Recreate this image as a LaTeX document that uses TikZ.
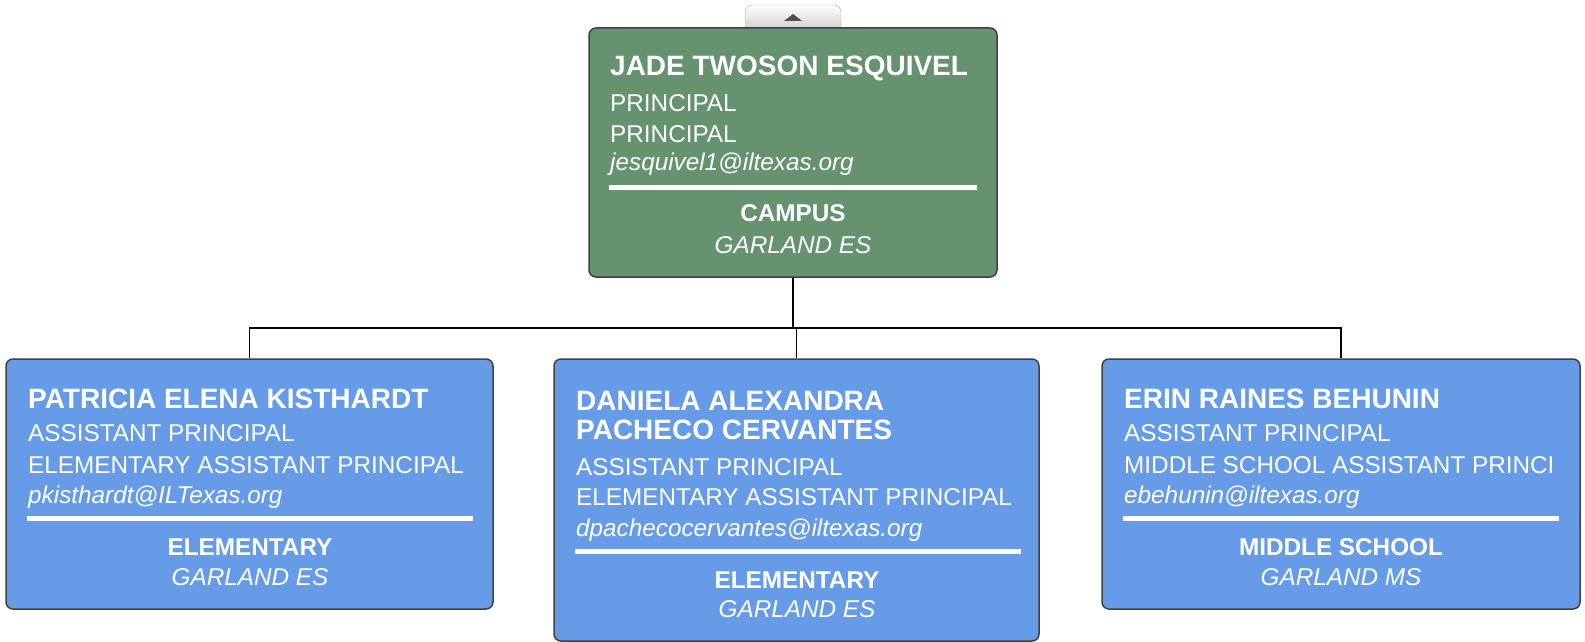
\documentclass[tikz,border=0pt]{standalone}
\usepackage{fontspec}
\setmainfont{Liberation Sans}
\usepackage{tikz}
\definecolor{campusgreen}{HTML}{66936F}
\definecolor{staffblue}{HTML}{669BE8}
\definecolor{cardedge}{HTML}{404040}
\definecolor{tabedge}{HTML}{A8A8A8}
\definecolor{tabmark}{HTML}{505050}

\begin{document}
\begin{tikzpicture}[x=1pt,y=-1pt,
  card/.style={draw=cardedge,line width=1.5pt,rounded corners=7pt,inner sep=0pt},
  ln/.style={anchor=base west,inner sep=0pt,text=white,font=\fontsize{24.3}{28}\selectfont},
  nm/.style={ln,font=\fontsize{28}{30}\selectfont\bfseries},
  em/.style={ln,font=\fontsize{24.3}{28}\selectfont\itshape},
  unit/.style={ln,anchor=base,font=\fontsize{24.3}{28}\selectfont\bfseries},
  site/.style={ln,anchor=base,font=\fontsize{24.3}{28}\selectfont\itshape},
  sep/.style={white,line width=5pt},
  link/.style={black,line width=1.5pt}]
\useasboundingbox (0,0) rectangle (1585,642);

\draw[draw=tabedge,top color=white,bottom color=black!18,rounded corners=7pt]
  (745,29) -- (745,5) -- (841,5) -- (841,29);
\fill[tabmark] (784,21) -- (802,21) -- (793,14) -- cycle;

\node[card,fill=campusgreen,minimum width=408pt,minimum height=249pt] (P) at (793,152.5) {};
\node[card,fill=staffblue,minimum width=487pt,minimum height=250pt] (A) at (249.5,484) {};
\node[card,fill=staffblue,minimum width=485pt,minimum height=282pt] (B) at (796.5,500) {};
\node[card,fill=staffblue,minimum width=478pt,minimum height=250pt] (C) at (1341,484) {};

\coordinate (bus) at (0,328);
\foreach \k in {A,B,C}
  \draw[link] (P.south) -- (P.south |- bus) -| (\k.north);

\node[nm] (P1) at (610,76) {JADE TWOSON ESQUIVEL};
\node[ln] (P2) at (610,111) {PRINCIPAL};
\node[ln] (P3) at (610,142) {PRINCIPAL};
\node[em] (P4) at (610,170.5) {jesquivel1@iltexas.org};
\draw[sep] (609,187) -- (977,187);
\node[unit] (P5) at (793,221.5) {CAMPUS};
\node[site] (P6) at (793,253) {GARLAND ES};

\node[nm] (A1) at (28,408) {PATRICIA ELENA KISTHARDT};
\node[ln] (A2) at (28,441.5) {ASSISTANT PRINCIPAL};
\node[ln] (A3) at (28,473) {ELEMENTARY ASSISTANT PRINCIPAL};
\node[em] (A4) at (28,503.5) {pkisthardt@ILTexas.org};
\draw[sep] (27,518) -- (473,518);
\node[unit] (A5) at (250,555) {ELEMENTARY};
\node[site] (A6) at (250,585) {GARLAND ES};

\node[nm] (B1) at (576,410.5) {DANIELA ALEXANDRA};
\node[nm] (B2) at (576,439) {PACHECO CERVANTES};
\node[ln] (B3) at (576,475) {ASSISTANT PRINCIPAL};
\node[ln] (B4) at (576,505.5) {ELEMENTARY ASSISTANT PRINCIPAL};
\node[em] (B5) at (576,536) {dpachecocervantes@iltexas.org};
\draw[sep] (575,551) -- (1021,551);
\node[unit] (B6) at (797,588) {ELEMENTARY};
\node[site] (B7) at (797,617.5) {GARLAND ES};

\node[nm] (C1) at (1124,408) {ERIN RAINES BEHUNIN};
\node[ln] (C2) at (1124,441.5) {ASSISTANT PRINCIPAL};
\node[ln] (C3) at (1124,473) {MIDDLE SCHOOL ASSISTANT PRINCI};
\node[em] (C4) at (1124,503.5) {ebehunin@iltexas.org};
\draw[sep] (1123,518) -- (1559,518);
\node[unit] (C5) at (1341,555) {MIDDLE SCHOOL};
\node[site] (C6) at (1341,585) {GARLAND MS};
\end{tikzpicture}
\end{document}
